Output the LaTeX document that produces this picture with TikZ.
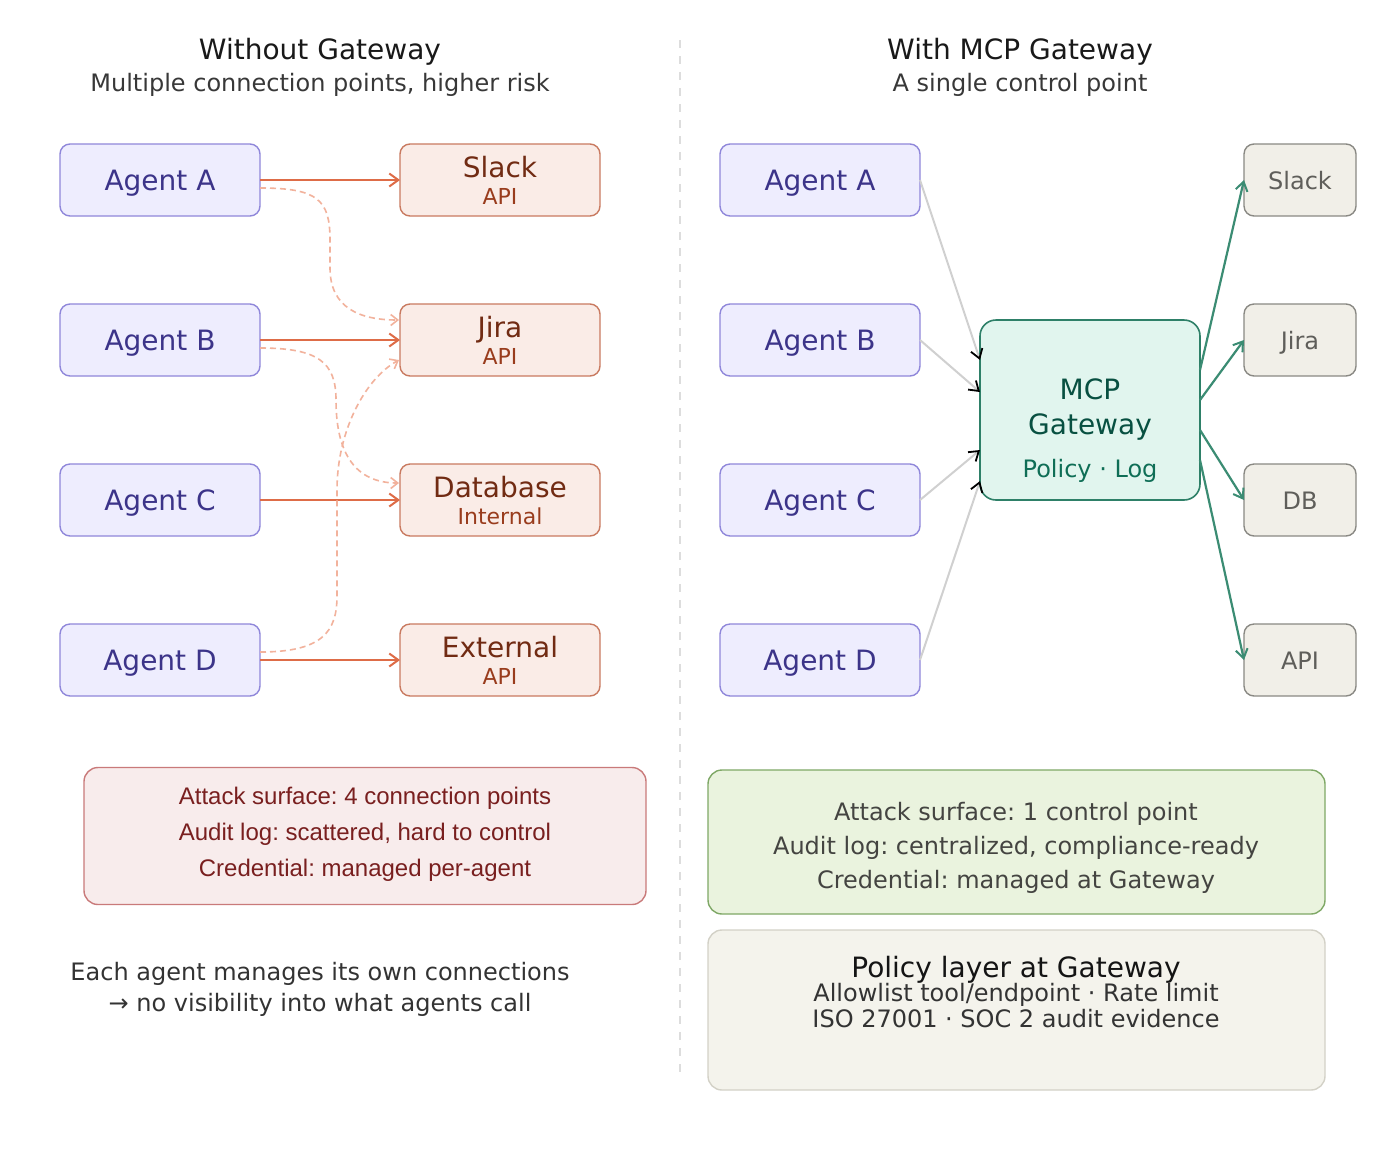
\documentclass[tikz,border=0pt]{standalone}
\usepackage{fontspec}
\setmainfont{DejaVu Sans}
\newfontfamily\arialfont{Liberation Sans}
\usetikzlibrary{arrows.meta,calc}
\definecolor{agentfill}{HTML}{EEEDFE}
\definecolor{agentdraw}{HTML}{8F87DA}
\definecolor{agenttext}{HTML}{3C3489}
\definecolor{svcfill}{HTML}{FAECE7}
\definecolor{svcdraw}{HTML}{C97A60}
\definecolor{svctext}{HTML}{712B13}
\definecolor{svcsub}{HTML}{993C1D}
\definecolor{orangeln}{HTML}{DE6C47}
\definecolor{dashln}{HTML}{F2B29C}
\definecolor{gwfill}{HTML}{E1F5EE}
\definecolor{gwdraw}{HTML}{2E8068}
\definecolor{gwtext}{HTML}{085041}
\definecolor{gwsub}{HTML}{0F6E56}
\definecolor{greenln}{HTML}{3B8C73}
\definecolor{rsfill}{HTML}{F1EFE8}
\definecolor{rsdraw}{HTML}{8A8984}
\definecolor{rstext}{HTML}{5F5E5A}
\definecolor{grayln}{HTML}{D0D0D0}
\definecolor{redfill}{HTML}{F8ECEC}
\definecolor{reddraw}{HTML}{C97A7A}
\definecolor{redtext}{HTML}{791F1F}
\definecolor{grnfill}{HTML}{EAF3DE}
\definecolor{grndraw}{HTML}{7FA866}
\definecolor{grntext}{HTML}{444441}
\definecolor{polfill}{HTML}{F4F3EC}
\definecolor{poldraw}{HTML}{D3D1C7}
\definecolor{divln}{HTML}{DDDDDD}
\newcommand{\fbig}{\fontsize{28}{34}\selectfont}
\newcommand{\fmid}{\fontsize{24}{29}\selectfont}
\newcommand{\fsml}{\fontsize{22}{26}\selectfont}
\frenchspacing
\begin{document}
\begin{tikzpicture}[x=1pt,y=-1pt,
  agent/.style={draw=agentdraw, fill=agentfill, line width=1.4pt, rounded corners=10pt, minimum width=200pt, minimum height=72pt, inner sep=0pt, outer sep=0pt},
  svc/.style={draw=svcdraw, fill=svcfill, line width=1.4pt, rounded corners=10pt, minimum width=200pt, minimum height=72pt, inner sep=0pt, outer sep=0pt},
  rsvc/.style={draw=rsdraw, fill=rsfill, line width=1.4pt, rounded corners=10pt, minimum width=112pt, minimum height=72pt, inner sep=0pt, outer sep=0pt},
  gwbox/.style={draw=gwdraw, fill=gwfill, line width=1.6pt, rounded corners=16pt, minimum width=220pt, minimum height=180pt, inner sep=0pt, outer sep=0pt},
  panel/.style={line width=1.4pt, rounded corners=14pt, inner sep=0pt, outer sep=0pt},
  txt/.style={anchor=base, inner sep=0pt, outer sep=0pt},
  solidarr/.style={draw=orangeln, line width=2pt, -{Straight Barb[length=9pt,width=13pt,line width=2pt]}},
  dasharr/.style={draw=dashln, line width=1.6pt, dash pattern=on 6pt off 4pt, -{Straight Barb[length=7pt,width=11pt,line width=1.6pt]}},
  inarr/.style={draw=grayln, line width=2pt, -{Straight Barb[length=9pt,width=12pt,line width=1.8pt,color=black]}},
  outarr/.style={draw=greenln, line width=2.2pt, -{Straight Barb[length=9pt,width=12pt,line width=2pt]}},
]
\useasboundingbox (0,0) rectangle (1400,1160);
\fill[white] (0,0) rectangle (1400,1160);

% divider
\coordinate (dtop) at (680,40);
\coordinate (dbot) at (680,1072);
\draw[divln, line width=2pt, dash pattern=on 8pt off 8pt] (dtop) -- (dbot);

% titles
\node[txt, font=\fbig, text=black!90] (t1) at (320,59) {Without Gateway};
\node[txt, font=\fmid, text=black!78] (s1) at (320,91) {Multiple connection points, higher risk};
\node[txt, font=\fbig, text=black!90] (t2) at (1020,59) {With MCP Gateway};
\node[txt, font=\fmid, text=black!78] (s2) at (1020,91) {A single control point};

% ---------- left panel ----------
\node[agent] (la) at (160,180) {};
\node[agent] (lb) at (160,340) {};
\node[agent] (lc) at (160,500) {};
\node[agent] (ld) at (160,660) {};
\node[txt, font=\fbig, text=agenttext] at (160,190) {Agent A};
\node[txt, font=\fbig, text=agenttext] at (160,350) {Agent B};
\node[txt, font=\fbig, text=agenttext] at (160,510) {Agent C};
\node[txt, font=\fbig, text=agenttext] at (160,670) {Agent D};

\node[svc] (ls1) at (500,180) {};
\node[svc] (ls2) at (500,340) {};
\node[svc] (ls3) at (500,500) {};
\node[svc] (ls4) at (500,660) {};
\node[txt, font=\fbig, text=svctext] at (500,177) {Slack};
\node[txt, font=\fsml, text=svcsub] at (500,204) {API};
\node[txt, font=\fbig, text=svctext] at (500,337) {Jira};
\node[txt, font=\fsml, text=svcsub] at (500,364) {API};
\node[txt, font=\fbig, text=svctext] at (500,497) {Database};
\node[txt, font=\fsml, text=svcsub] at (500,524) {Internal};
\node[txt, font=\fbig, text=svctext] at (500,657) {External};
\node[txt, font=\fsml, text=svcsub] at (500,684) {API};

\draw[solidarr] (la.east) -- (ls1.west);
\draw[solidarr] (lb.east) -- (ls2.west);
\draw[solidarr] (lc.east) -- (ls3.west);
\draw[solidarr] (ld.east) -- (ls4.west);

\draw[dasharr] ($(la.east)+(0,8)$) .. controls (318,188) and (330,200) .. (330,240) -- (330,268) .. controls (330,308) and (360,320) .. ($(ls2.west)+(-1,-20)$);
\draw[dasharr] ($(lb.east)+(0,8)$) .. controls (318,348) and (336,362) .. (336,400) .. controls (336,462) and (362,483) .. ($(ls3.west)+(-1,-17)$);
\draw[dasharr] ($(ld.east)+(0,-8)$) .. controls (322,652) and (337,632) .. (337,596) -- (337,490) .. controls (337,430) and (366,378) .. ($(ls2.west)+(-1,20)$);

% left summary
\node[panel, draw=reddraw, fill=redfill, minimum width=562pt, minimum height=137pt] (rbox) at (365,836) {};
\node[txt, font=\arialfont\fmid, text=redtext] at (365,804) {Attack surface: 4 connection points};
\node[txt, font=\arialfont\fmid, text=redtext] at (365,840) {Audit log: scattered, hard to control};
\node[txt, font=\arialfont\fmid, text=redtext] at (365,876) {Credential: managed per-agent};

\node[txt, font=\fmid, text=black!80] at (320,980) {Each agent manages its own connections};
\node[txt, font=\fmid, text=black!80] at (320,1011) {→ no visibility into what agents call};

% ---------- right panel ----------
\node[agent] (ra) at (820,180) {};
\node[agent] (rb) at (820,340) {};
\node[agent] (rc) at (820,500) {};
\node[agent] (rd) at (820,660) {};
\node[txt, font=\fbig, text=agenttext] at (820,190) {Agent A};
\node[txt, font=\fbig, text=agenttext] at (820,350) {Agent B};
\node[txt, font=\fbig, text=agenttext] at (820,510) {Agent C};
\node[txt, font=\fbig, text=agenttext] at (820,670) {Agent D};

\node[gwbox] (gw) at (1090,410) {};
\node[txt, font=\fbig, text=gwtext] at (1090,399) {MCP};
\node[txt, font=\fbig, text=gwtext] at (1090,434) {Gateway};
\node[txt, font=\fmid, text=gwsub] at (1090,477) {Policy · Log};

\node[rsvc] (rs1) at (1300,180) {};
\node[rsvc] (rs2) at (1300,340) {};
\node[rsvc] (rs3) at (1300,500) {};
\node[rsvc] (rs4) at (1300,660) {};
\node[txt, font=\fmid, text=rstext] at (1300,189) {Slack};
\node[txt, font=\fmid, text=rstext] at (1300,349) {Jira};
\node[txt, font=\fmid, text=rstext] at (1300,509) {DB};
\node[txt, font=\fmid, text=rstext] at (1300,669) {API};

\draw[inarr] (ra.east) -- ($(gw.north west)+(0,40)$);
\draw[inarr] (rb.east) -- ($(gw.north west)+(0,72)$);
\draw[inarr] (rc.east) -- ($(gw.north west)+(0,130)$);
\draw[inarr] (rd.east) -- ($(gw.north west)+(0,161)$);

\draw[outarr] ($(gw.north east)+(0,50)$) -- (rs1.west);
\draw[outarr] ($(gw.north east)+(0,80)$) -- (rs2.west);
\draw[outarr] ($(gw.north east)+(0,110)$) -- (rs3.west);
\draw[outarr] ($(gw.north east)+(0,140)$) -- (rs4.west);

% right summary
\node[panel, draw=grndraw, fill=grnfill, minimum width=617pt, minimum height=144pt] (gbox) at (1016.5,842) {};
\node[txt, font=\fmid, text=grntext] at (1016,820) {Attack surface: 1 control point};
\node[txt, font=\fmid, text=grntext] at (1016,854) {Audit log: centralized, compliance-ready};
\node[txt, font=\fmid, text=grntext] at (1016,888) {Credential: managed at Gateway};

\node[panel, draw=poldraw, fill=polfill, minimum width=617pt, minimum height=160pt] (pbox) at (1016.5,1010) {};
\node[txt, font=\fbig, text=black!92] at (1016,977) {Policy layer at Gateway};
\node[txt, font=\fmid, text=black!80] at (1016,1001) {Allowlist tool/endpoint · Rate limit};
\node[txt, font=\fmid, text=black!80] at (1016,1027) {ISO 27001 · SOC 2 audit evidence};
\end{tikzpicture}
\end{document}
